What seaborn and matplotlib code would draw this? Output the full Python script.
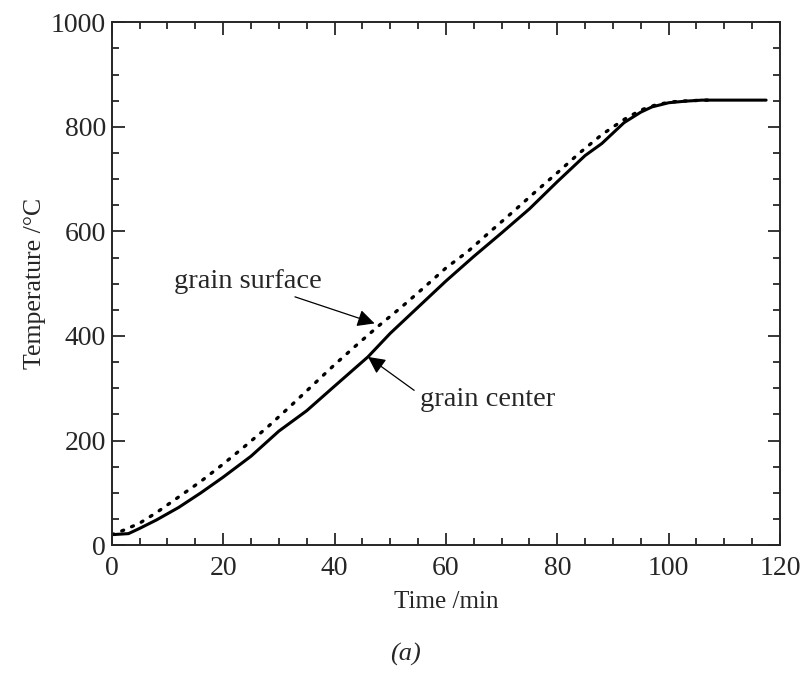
import numpy as np
import pandas as pd
import seaborn as sns
import matplotlib
matplotlib.use('Agg')
import matplotlib.pyplot as plt
from matplotlib.ticker import MultipleLocator

# odczyt z wykresu: temperatura w srodku ziarna i na powierzchni
center_time = [0, 3, 5, 8, 12, 16, 20, 25, 30, 35, 40, 46, 50, 54, 60, 65, 70,
               75, 80, 85, 88, 92, 95, 97, 100, 103, 106, 110, 117.5]
center_temp = [20, 22, 32, 48, 72, 100, 130, 170, 218, 257, 304, 360, 405, 445,
               505, 552, 597, 643, 695, 745, 768, 808, 828, 838, 846, 849, 851, 851, 851]

surface_time = [0, 2, 5, 8, 12, 16, 20, 24, 28, 32, 36, 40, 44, 48, 52, 56, 60,
                64, 68, 72, 76, 80, 84, 88, 92, 95, 98, 101, 104, 107]
surface_temp = [20, 28, 42, 62, 92, 122, 155, 190, 226, 265, 305, 345, 383, 420,
                455, 492, 530, 562, 600, 637, 675, 712, 750, 785, 814, 832, 843,
                848, 850, 851]

sns.set_style('ticks')
plt.rcParams['font.family'] = ['Liberation Serif', 'DejaVu Serif']

fig = plt.figure(figsize=(8.1, 6.73), dpi=100)
ax = fig.add_axes([0.138, 0.19, 0.825, 0.777])

df_c = pd.DataFrame({'t': center_time, 'T': center_temp})
df_s = pd.DataFrame({'t': surface_time, 'T': surface_temp})
sns.lineplot(data=df_s, x='t', y='T', ax=ax, color='black', lw=2.4,
             linestyle=(0, (0.6, 2.6)), dash_capstyle='round')
sns.lineplot(data=df_c, x='t', y='T', ax=ax, color='black', lw=2.2)

ax.set_xlim(0, 120)
ax.set_ylim(0, 1000)
ax.xaxis.set_major_locator(MultipleLocator(20))
ax.xaxis.set_minor_locator(MultipleLocator(5))
ax.yaxis.set_major_locator(MultipleLocator(200))
ax.yaxis.set_minor_locator(MultipleLocator(50))
ax.tick_params(which='both', direction='in', top=True, right=True,
               labelsize=20, width=1.3)
ax.tick_params(which='major', length=9)
ax.tick_params(which='minor', length=5)
ax.tick_params(axis='x', which='major', pad=8)
ax.tick_params(axis='y', which='major', pad=4)
for s in ax.spines.values():
    s.set_linewidth(1.4)

ax.set_xlabel('Time /min', fontsize=18, labelpad=7)
ax.set_ylabel('Temperature /°C', fontsize=18.5, labelpad=4)

arrow = dict(arrowstyle='-|>', color='black', lw=0.9, mutation_scale=26,
             shrinkA=0, shrinkB=0)
ax.annotate('grain surface', xy=(47.2, 424), xytext=(24.4, 505),
            fontsize=20.5, ha='center', va='center', arrowprops=arrow)
ax.annotate('', xy=(46, 360), xytext=(54.3, 296), arrowprops=arrow)
ax.text(55.3, 278, 'grain center', fontsize=20.5, ha='left', va='center')

fig.text(0.5, 0.018, '(a)', fontsize=19, style='italic', ha='center')

fig.savefig('out.png', dpi=100)
